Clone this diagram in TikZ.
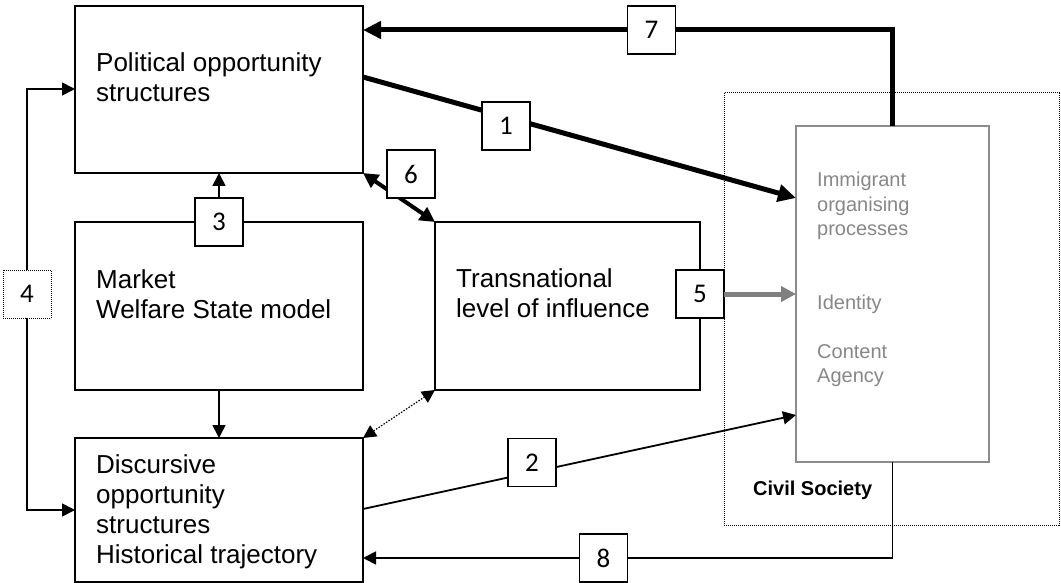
\documentclass[tikz,border=0pt]{standalone}
\usepackage{fontspec}
\setmainfont{Liberation Sans}
\newfontfamily\numfont{Carlito}
\usetikzlibrary{arrows.meta,calc}
\definecolor{boxgray}{RGB}{140,140,140}
\definecolor{textgray}{RGB}{135,135,135}
\definecolor{arrowgray}{RGB}{128,128,128}
% left-aligned stack of lines whose baseline is the first line
\newcommand\linestack[1]{\begin{tabular}[t]{@{}l@{}}#1\end{tabular}}
\begin{document}
\begin{tikzpicture}[x=1pt,y=-1pt,
  box/.style={draw, line width=1.8pt, inner sep=0pt, outer sep=0pt, anchor=north west},
  txt/.style={anchor=base west, inner sep=0pt, font=\fontsize{26}{30}\selectfont},
  numbox/.style={draw, solid, fill=white, line width=1.6pt, minimum size=48pt, inner sep=0pt, outer sep=0pt,
    font=\numfont\fontsize{27}{30}\selectfont},
  thin arrow/.style={line width=1.8pt, -{Triangle[length=13pt,width=13pt]}},
  thick arrow/.style={line width=5pt, line join=miter, -{Triangle[length=18pt,width=17pt]}},
]
\useasboundingbox (0,0) rectangle (1061,583);

% civil society frame
\node[draw, dash pattern=on 1pt off 1pt, line width=1pt, anchor=north west, inner sep=0pt, outer sep=0pt,
  minimum width=335pt, minimum height=432pt] (civ) at (724,93) {};
\node[anchor=base west, inner sep=0pt, font=\bfseries\fontsize{20}{24}\selectfont] (civT) at (753,495) {Civil Society};

% main boxes
\node[box, minimum width=288pt, minimum height=167pt] (pos) at (75,6) {};
\node[box, minimum width=288pt, minimum height=168pt] (mkt) at (75,222) {};
\node[box, minimum width=288pt, minimum height=144pt] (dis) at (75,438) {};
\node[box, minimum width=265pt, minimum height=168pt] (trn) at (435,222) {};
\node[box, draw=boxgray, minimum width=193pt, minimum height=336pt] (imm) at (796,126) {};

% box texts
\node[txt] (posT) at (96,72) {\linestack{Political opportunity\\structures}};
\node[txt] (mktT) at (96,288) {\linestack{Market\\Welfare State model}};
\node[txt] (disT) at (96,473) {\linestack{Discursive\\opportunity\\structures\\Historical trajectory}};
\node[txt] (trnT) at (456,287) {\linestack{Transnational\\level of influence}};
\node[txt, text=textgray, font=\fontsize{20}{24.5}\selectfont] (immT) at (817,187)
  {\linestack{Immigrant\\organising\\processes\\ \\ \\Identity\\ \\Content\\Agency}};

% 1: political opportunities -> immigrant organising
\draw[thick arrow] ($(pos.north east)+(0,71)$) -- node[numbox, pos=0.33, yshift=-9pt] (n1) {1} ($(imm.north west)+(0,72)$);

% 2: discursive opportunities -> immigrant organising
\draw[thin arrow] ($(dis.north east)+(0,71)$) -- node[numbox, pos=0.39, yshift=10pt] (n2) {2} ($(imm.north west)+(0,289)$);

% 3: market -> political opportunities
\node[numbox] (n3) at (mkt.north) {3};
\draw[thin arrow] (n3) -- (pos.south);

% market -> discursive
\draw[thin arrow] (mkt.south) -- (dis.north);

% 4: link to both opportunity structures
\node[numbox, dash pattern=on 1pt off 1pt, line width=1pt] (n4) at (27,294) {4};
\draw[thin arrow] (n4.north) |- ($(pos.north west)+(0,83)$);
\draw[thin arrow] (n4.south) |- ($(dis.north west)+(0,72)$);

% 5: transnational -> identity
\node[numbox] (n5) at (trn.east |- 0,294) {5};
\draw[line width=5pt, arrowgray, -{Triangle[length=15pt,width=15pt]}] (n5) -- (imm.west |- n5);

% 6: political <-> transnational
\draw[line width=4pt, {Triangle[length=15pt,width=15pt]}-{Triangle[length=15pt,width=15pt]}]
  (pos.south east) -- (trn.north west);
\node[numbox] (n6) at (411,174) {6};

% discursive <-> transnational
\draw[line width=1.2pt, dash pattern=on 1.5pt off 1.5pt,
  {Triangle[length=13pt,width=13pt]}-{Triangle[length=13pt,width=13pt]}]
  (dis.north east) -- (trn.south west);

% 7: feedback to political opportunities
\coordinate (k7) at (imm.north |- 0,30);
\draw[thick arrow] (imm.north) -- (k7) -- node[numbox, pos=0.455] (n7) {7} (pos.east |- k7);

% 8: feedback to discursive opportunities
\coordinate (k8) at (imm.south |- 0,558);
\draw[thin arrow] (imm.south) -- (k8) -- node[numbox, pos=0.546] (n8) {8} (dis.east |- k8);
\end{tikzpicture}
\end{document}
